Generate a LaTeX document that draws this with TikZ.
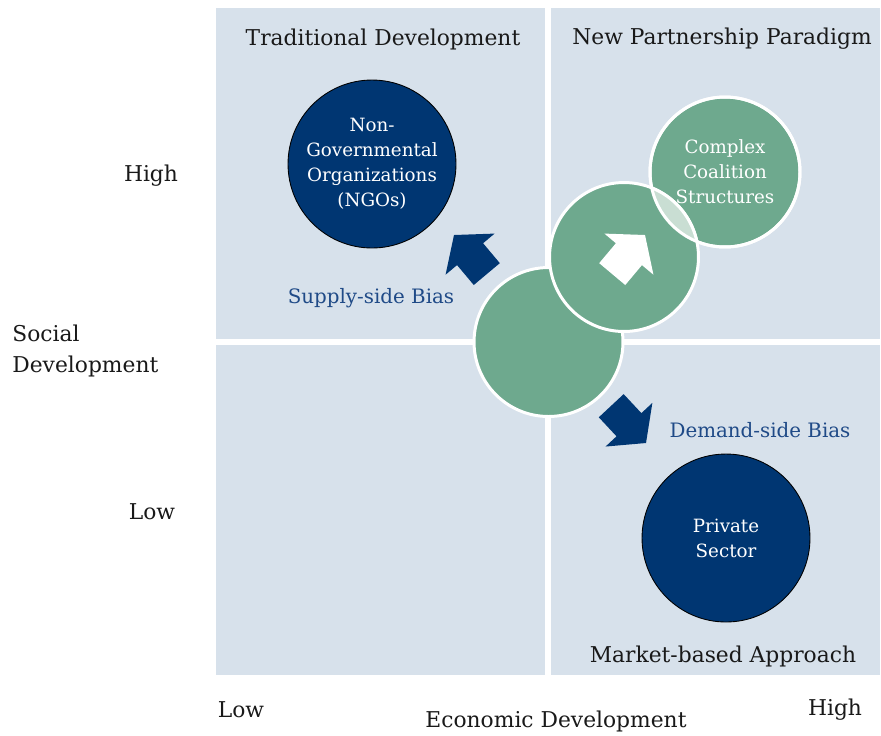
\documentclass[tikz,border=0pt]{standalone}
\usepackage{fontspec}
\setmainfont{DejaVu Serif}
\definecolor{quadfill}{HTML}{D7E1EB}
\definecolor{navy}{HTML}{003672}
\definecolor{sage}{HTML}{6EA98E}
\definecolor{lensfill}{HTML}{C9DED3}
\definecolor{biasblue}{HTML}{1F4A87}
\tikzset{
  lbl/.style={inner sep=0pt, text=black!90, font=\fontsize{12.4}{18}\selectfont},
  bias/.style={lbl, text=biasblue, font=\fontsize{11.3}{14}\selectfont},
  sector/.style={circle, fill=navy, draw=black, line width=0.5pt, text=white, align=center,
    minimum size=3.36cm, inner sep=0pt, font=\fontsize{10.4}{14.2}\selectfont},
  bubble/.style={circle, fill=sage, draw=white, line width=1.7pt, text=white, align=center,
    minimum size=2.98cm, inner sep=0pt, font=\fontsize{10.4}{14.2}\selectfont},
  bigarrow/.pic={
    \path[pic actions] (0,0) -- (-25,32) -- (-25,17) -- (-51,17) -- (-51,-17)
      -- (-25,-17) -- (-25,-32) -- cycle;
  }
}
\begin{document}
\begin{tikzpicture}[x=0.02cm, y=-0.02cm]
  \useasboundingbox (0,0) rectangle (881,735);
  % the four quadrants
  \fill[quadfill] (216,8) rectangle (545,339);
  \fill[quadfill] (551,8) rectangle (880,339);
  \fill[quadfill] (216,345) rectangle (545,675);
  \fill[quadfill] (551,345) rectangle (880,675);

  \node[lbl] (trad) at (383,39) {Traditional Development};
  \node[lbl] (newp) at (722,39) {New Partnership Paradigm};
  \node[lbl] (market) at (723,656) {Market-based Approach};

  % axes
  \node[lbl] (yhigh) at (151,176) {High};
  \node[lbl] (ylow) at (152,512) {Low};
  \node[lbl, align=left, anchor=west] (yaxis) at (12,351) {Social\\Development};
  \node[lbl] (xlow) at (241,710) {Low};
  \node[lbl] (xhigh) at (835,710) {High};
  \node[lbl] (xaxis) at (556,721) {Economic Development};

  % sectors
  \node[sector] (ngo) at (372,164) {Non-\\Governmental\\Organizations\\(NGOs)};
  \node[sector] (private) at (726,538) {Private\\Sector};

  % partnership bubbles
  \node[bubble] (start) at (548.5,342) {};
  \node[bubble, minimum size=3cm] (coalition) at (725,172) {Complex\\Coalition\\Structures};
  \node[bubble] (move) at (624,257) {};
  \begin{scope}
    \clip (coalition.center) circle[radius=1.5cm];
    \fill[lensfill] (move.center) circle[radius=1.49cm];
    \draw[white, line width=1.7pt] (move.center) circle[radius=1.49cm];
  \end{scope}
  \draw[white, line width=1.7pt] (coalition.center) circle[radius=1.5cm];

  % arrows
  \pic[fill=white, rotate=50] (up) at (645,235) {bigarrow};
  \pic[fill=navy, rotate=130] (supply) at (454,235) {bigarrow};
  \pic[fill=navy, rotate=-47] (demand) at (646,443) {bigarrow};

  \node[bias] (supplylbl) at (371,298) {Supply-side Bias};
  \node[bias] (demandlbl) at (760,430) {Demand-side Bias};
\end{tikzpicture}
\end{document}
